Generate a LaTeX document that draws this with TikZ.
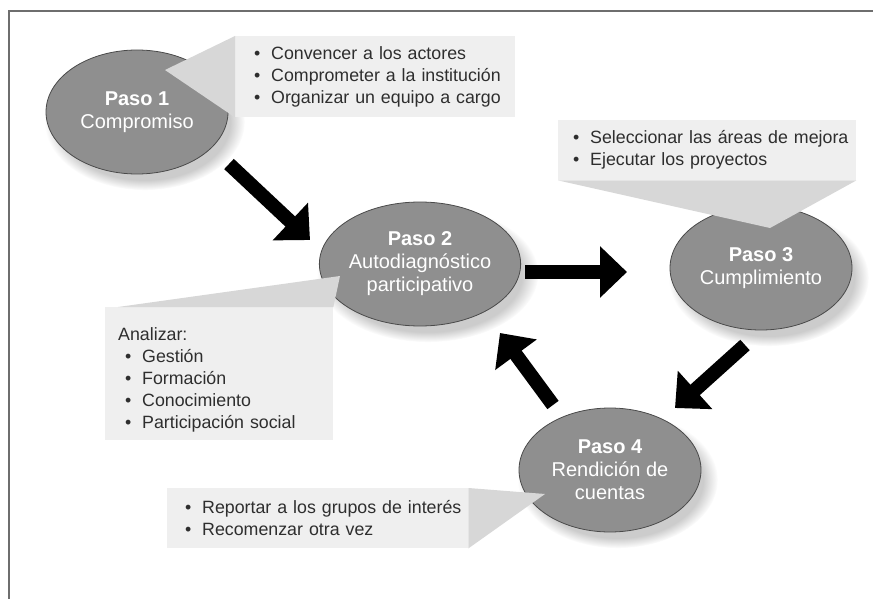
\documentclass[tikz,border=0pt]{standalone}
\usepackage{fontspec}
\setmainfont{Liberation Sans}
\usetikzlibrary{shapes,arrows.meta,positioning,shadows,fadings}

\definecolor{pasogray}{HTML}{8F8F8F}
\definecolor{pasoline}{HTML}{4A4A4A}
\definecolor{boxgray}{HTML}{EFEFEF}
\definecolor{pointgray}{HTML}{D7D7D7}
\definecolor{textgray}{HTML}{2E2E2E}

\newcommand{\itm}[1]{\mbox{\makebox[17pt][l]{\textbullet}#1}}

\begin{document}
\begin{tikzpicture}[x=1pt, y=-1pt, >={Triangle[width=50pt, length=27pt]}]
    % Styles
    \tikzstyle{paso} = [ellipse, draw=pasoline, line width=0.8pt, fill=pasogray, minimum width=182pt, minimum height=124pt, inner sep=0pt, text=white, align=center, font=\fontsize{20}{23}\selectfont, circular drop shadow={shadow xshift=7pt, shadow yshift=-9pt, opacity=.4}]
    \tikzstyle{callout} = [rectangle, fill=boxgray, anchor=north west, align=left, inner ysep=0pt, text=textgray, font=\fontsize{17.8}{22}\selectfont]
    \tikzstyle{pointer} = [fill=pointgray]
    \tikzstyle{flow} = [draw=black, line width=14pt, ->]

    \useasboundingbox (0,0) rectangle (873,599);
    \draw [line width=1.5pt, color=pasoline!80] (9,599) -- (9,11) -- (873,11);

    % Nodes
    \node [paso] (P1) at (137,112) {\textbf{Paso 1}\\Compromiso};
    \node [paso] (P2) at (420,264) {\textbf{Paso 2}\\Autodiagnóstico\\participativo};
    \node [paso] (P3) at (761,268) {\textbf{Paso 3}\\Cumplimiento};
    \node [paso] (P4) at (610,470) {\textbf{Paso 4}\\Rendición de\\cuentas};

    \coordinate (T1) at (165,70);
    \coordinate (T2) at (340,276);
    \coordinate (T3) at (770,228);
    \coordinate (T4) at (545,494);

    \node [callout, inner xsep=19pt, text width=242pt, minimum height=81pt] (C1) at (235,36)
        {\itm{Convencer a los actores}\\ \itm{Comprometer a la institución}\\ \itm{Organizar un equipo a cargo}};
    \node [callout, inner xsep=13pt, text width=202pt, minimum height=133pt] (C2) at (105,307)
        {\rule{0pt}{25pt}Analizar:\\ \hspace*{7pt}\itm{Gestión}\\ \hspace*{7pt}\itm{Formación}\\ \hspace*{7pt}\itm{Conocimiento}\\ \hspace*{7pt}\itm{Participación social}};
    \node [callout, inner xsep=15pt, text width=268pt, minimum height=60pt] (C3) at (558,120)
        {\itm{Seleccionar las áreas de mejora}\\ \itm{Ejecutar los proyectos}};
    \node [callout, inner xsep=18pt, text width=265pt, minimum height=60pt] (C4) at (167,488)
        {\itm{Reportar a los grupos de interés}\\ \itm{Recomenzar otra vez}};

    % Pointers
    \path [pointer] (C1.north west) -- (T1) -- (C1.south west) -- cycle;
    \path [pointer] ([xshift=13pt]C2.north west) -- (T2) -- (C2.north east) -- cycle;
    \path [pointer] (C3.south west) -- (T3) -- (C3.south east) -- cycle;
    \path [pointer] (C4.north east) -- (T4) -- (C4.south east) -- cycle;

    % Flow
    \coordinate (A1s) at (229,164);
    \coordinate (A1e) at (310,240);
    \coordinate (A2s) at (525,272);
    \coordinate (A2e) at (627,272);
    \coordinate (A3s) at (745,345);
    \coordinate (A3e) at (675,408);
    \coordinate (A4s) at (553,405);
    \coordinate (A4e) at (500,333);
    \path [flow] (A1s) -- (A1e);
    \path [flow] (A2s) -- (A2e);
    \path [flow] (A3s) -- (A3e);
    \path [flow] (A4s) -- (A4e);

\end{tikzpicture}
\end{document}
